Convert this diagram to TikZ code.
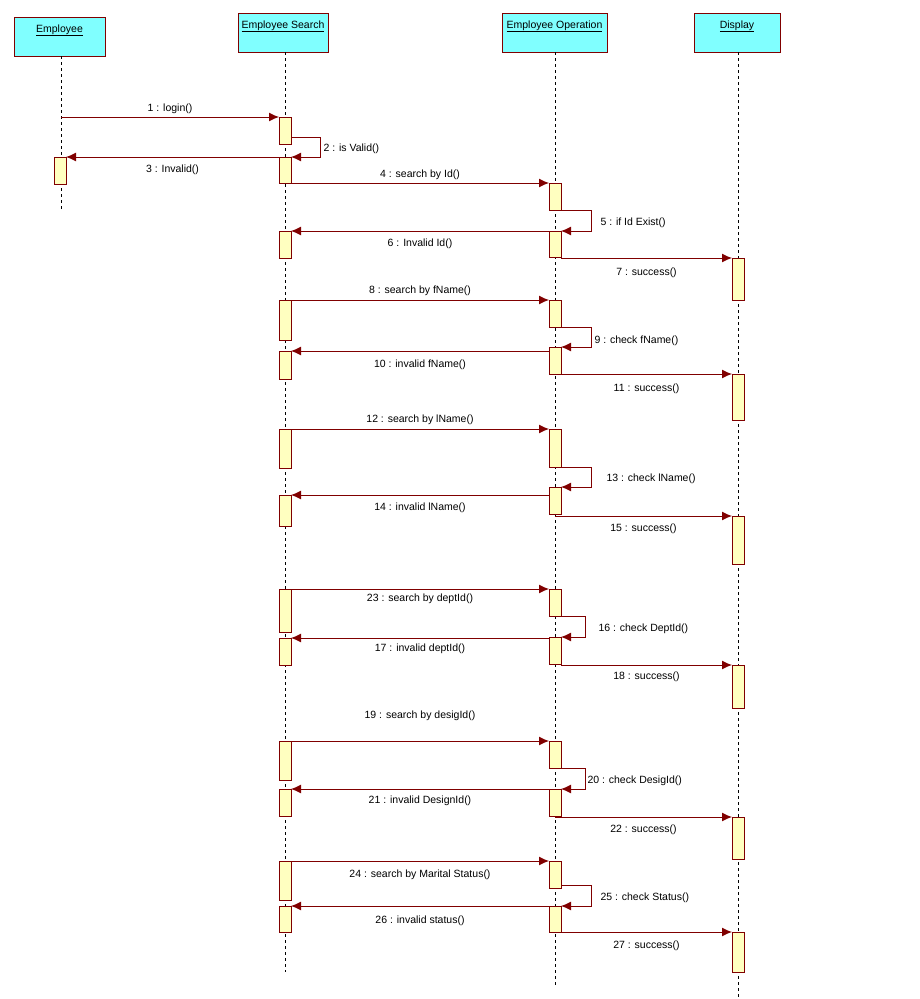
\documentclass[tikz,border=0pt]{standalone}
\usepackage{fontspec}
\setmainfont{Liberation Sans}
\usetikzlibrary{arrows.meta, positioning}
\definecolor{umlred}{RGB}{128,0,0}
\definecolor{umlcyan}{RGB}{128,255,255}
\definecolor{umlbar}{RGB}{255,255,192}

\begin{document}
\begin{tikzpicture}[
    x=1pt, y=-1pt,
    font=\fontsize{10.5}{12}\selectfont,
    head/.style={draw=umlred, fill=umlcyan, line width=1pt, outer sep=0pt, anchor=north, inner xsep=0pt, inner ysep=3pt, text height=12pt, text depth=21pt, minimum height=39pt},
    bar/.style={draw=umlred, fill=umlbar, line width=1pt, outer sep=0pt, anchor=north, inner sep=0pt, minimum width=12pt},
    life/.style={line width=1pt, dash pattern=on 3pt off 3pt},
    arrow/.style={-{Latex[length=10pt, width=9pt]}, draw=umlred, line width=1pt},
    lbl/.style={text=black, inner sep=3pt},
    self/.style={lbl, pos=0.25, yshift=-2pt}
]
\useasboundingbox (0,0) rectangle (920,999);

% objects
\node[head, minimum width=91pt] (employee) at (59.5,17) {\underline{Employee}};
\node[head, minimum width=90pt] (search) at (283,13) {\underline{Employee Search}};
\node[head, minimum width=105pt] (operation) at (554.5,13) {\underline{Employee Operation}};
\node[head, minimum width=86pt] (display) at (737,13) {\underline{Display}};

% lifelines
\coordinate (employeeEnd) at (61,210);
\coordinate (searchEnd) at (285,972);
\coordinate (operationEnd) at (555,985);
\coordinate (displayEnd) at (738,998);
\draw[life] (employee.south -| employeeEnd) -- (employeeEnd);
\draw[life] (search.south -| searchEnd) -- (searchEnd);
\draw[life] (operation.south -| operationEnd) -- (operationEnd);
\draw[life] (display.south -| displayEnd) -- (displayEnd);

% activations
\node[bar, minimum height=27pt] (e1) at (60,157) {};

\node[bar, minimum height=27pt] (s1) at (285,117) {};
\node[bar, minimum height=26pt] (s2) at (285,157) {};
\node[bar, minimum height=27pt] (s3) at (285,231) {};
\node[bar, minimum height=40pt] (s4) at (285,300) {};
\node[bar, minimum height=28pt] (s5) at (285,351) {};
\node[bar, minimum height=39pt] (s6) at (285,429) {};
\node[bar, minimum height=31pt] (s7) at (285,495) {};
\node[bar, minimum height=43pt] (s8) at (285,589) {};
\node[bar, minimum height=27pt] (s9) at (285,638) {};
\node[bar, minimum height=39pt] (s10) at (285,741) {};
\node[bar, minimum height=27pt] (s11) at (285,789) {};
\node[bar, minimum height=39pt] (s12) at (285,861) {};
\node[bar, minimum height=26pt] (s13) at (285,906) {};

\node[bar, minimum height=27pt] (o1) at (555,183) {};
\node[bar, minimum height=26pt] (o2) at (555,231) {};
\node[bar, minimum height=27pt] (o3) at (555,300) {};
\node[bar, minimum height=27pt] (o4) at (555,347) {};
\node[bar, minimum height=38pt] (o5) at (555,429) {};
\node[bar, minimum height=27pt] (o6) at (555,487) {};
\node[bar, minimum height=27pt] (o7) at (555,589) {};
\node[bar, minimum height=27pt] (o8) at (555,637) {};
\node[bar, minimum height=27pt] (o9) at (555,741) {};
\node[bar, minimum height=27pt] (o10) at (555,789) {};
\node[bar, minimum height=27pt] (o11) at (555,861) {};
\node[bar, minimum height=26pt] (o12) at (555,906) {};

\node[bar, minimum height=42pt] (d1) at (738,258) {};
\node[bar, minimum height=46pt] (d2) at (738,374) {};
\node[bar, minimum height=48pt] (d3) at (738,516) {};
\node[bar, minimum height=43pt] (d4) at (738,665) {};
\node[bar, minimum height=42pt] (d5) at (738,817) {};
\node[bar, minimum height=40pt] (d6) at (738,932) {};

% login
\coordinate (loginStart) at (61,117);
\draw[arrow] (loginStart) -- node[lbl, above] {1 : login()} (s1.north west);
\draw[arrow] ([yshift=7pt]s1.south east) -- ++(29,0) |- node[self, right] {2 : is Valid()} (s2.north east);
\draw[arrow] (s2.north west) -- node[lbl, below=4pt] {3 : Invalid()} (e1.north east);

% by id
\draw[arrow] (s2.south east) -- node[lbl, above] {4 : search by Id()} (o1.north west);
\draw[arrow] (o1.south east) -- ++(30,0) |- node[self, right=6pt] {5 : if Id Exist()} (o2.north east);
\draw[arrow] (o2.north west) -- node[lbl, below=4pt] {6 : Invalid Id()} (s3.north east);
\draw[arrow] (o2.east |- d1.north) -- node[lbl, below=6pt] {7 : success()} (d1.north west);

% by first name
\draw[arrow] (s4.north east) -- node[lbl, above=1pt] {8 : search by fName()} (o3.north west);
\draw[arrow] (o3.south east) -- ++(30,0) |- node[self, right, yshift=-2pt] {9 : check fName()} (o4.north east);
\draw[arrow] (o4.west |- s5.north) -- node[lbl, below=5pt] {10 : invalid fName()} (s5.north east);
\draw[arrow] (o4.south east) -- node[lbl, below=6pt] {11 : success()} (d2.north west);

% by last name
\draw[arrow] (s6.north east) -- node[lbl, above=1pt] {12 : search by lName()} (o5.north west);
\draw[arrow] (o5.south east) -- ++(30,0) |- node[self, right=12pt] {13 : check lName()} (o6.north east);
\draw[arrow] (o6.west |- s7.north) -- node[lbl, below=4pt] {14 : invalid lName()} (s7.north east);
\draw[arrow] (o6.south |- d3.north) -- node[lbl, below=4pt] {15 : success()} (d3.north west);

% by department
\draw[arrow] (s8.north east) -- node[lbl, below=1pt] {23 : search by deptId()} (o7.north west);
\draw[arrow] (o7.south east) -- ++(24,0) |- node[self, right=10pt] {16 : check DeptId()} (o8.north east);
\draw[arrow] (o8.west |- s9.north) -- node[lbl, below=2pt] {17 : invalid deptId()} (s9.north east);
\draw[arrow] (o8.east |- d4.north) -- node[lbl, below=3pt] {18 : success()} (d4.north west);

% by designation
\draw[arrow] (s10.north east) -- node[lbl, above=17pt] {19 : search by desigId()} (o9.north west);
\draw[arrow] (o9.south east) -- ++(24,0) |- node[self, right=-1pt] {20 : check DesigId()} (o10.north east);
\draw[arrow] (o10.north west) -- node[lbl, below=3pt] {21 : invalid DesignId()} (s11.north east);
\draw[arrow] (o10.south |- d5.north) -- node[lbl, below=4pt] {22 : success()} (d5.north west);

% by marital status
\draw[arrow] (s12.north east) -- node[lbl, below=5pt] {24 : search by Marital Status()} (o11.north west);
\draw[arrow] ([yshift=3pt]o11.south east) -- ++(30,0) |- node[self, right=6pt] {25 : check Status()} (o12.north east);
\draw[arrow] (o12.north west) -- node[lbl, below=6pt] {26 : invalid status()} (s13.north east);
\draw[arrow] (o12.south east) -- node[lbl, below=5pt] {27 : success()} (d6.north west);
\end{tikzpicture}
\end{document}
